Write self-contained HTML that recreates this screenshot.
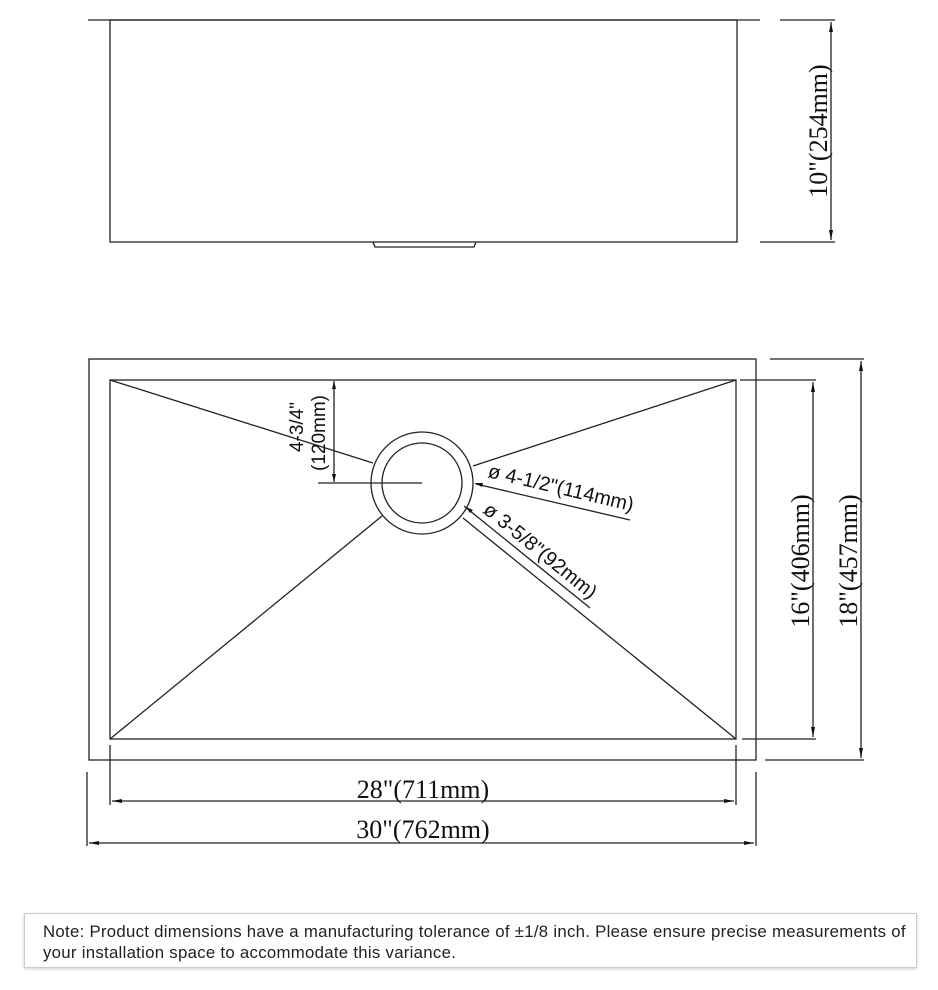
<!DOCTYPE html>
<html><head><style>
html,body{margin:0;padding:0;background:#fff;}
svg{display:block;}
.s{font-family:"Liberation Serif",serif;font-size:26px;fill:#111;}
.a{font-family:"Liberation Sans",sans-serif;fill:#111;}
.note{position:absolute;left:24px;top:913px;width:893px;height:55px;border:1px solid #ccc;box-shadow:0 1px 3px rgba(0,0,0,.2);box-sizing:border-box;font-family:"Liberation Sans",sans-serif;font-size:16.8px;letter-spacing:0.28px;color:#222;padding:7px 0 0 18px;line-height:21px;white-space:nowrap;}
</style></head><body>
<div style="position:relative;width:938px;height:990px;overflow:hidden;">
<svg width="938" height="990" viewBox="0 0 938 990" xmlns="http://www.w3.org/2000/svg">
<g stroke="#222" stroke-width="1.3" fill="none">
<line x1="88" y1="20" x2="760" y2="20"/>
<rect x="110" y="20" width="627" height="222"/>
<path d="M373,242 L375,247 L474,247 L476,242"/>
<line x1="780" y1="20" x2="835" y2="20"/>
<line x1="760" y1="242" x2="835" y2="242"/>
<line x1="831" y1="22" x2="831" y2="240"/>
<rect x="89" y="359" width="667" height="401"/>
<rect x="110" y="380" width="626" height="359"/>
<circle cx="422" cy="483" r="51"/>
<circle cx="422" cy="483" r="40"/>
<line x1="110" y1="380" x2="373" y2="463"/>
<line x1="736" y1="380" x2="473" y2="466"/>
<line x1="110" y1="739" x2="382" y2="516"/>
<line x1="736" y1="739" x2="463" y2="518"/>
<line x1="464" y1="506" x2="590" y2="608"/>
<line x1="476" y1="484" x2="630" y2="520"/>
<line x1="334" y1="381" x2="334" y2="482"/>
<line x1="318" y1="483" x2="422" y2="483"/>
<line x1="740" y1="380" x2="816" y2="380"/>
<line x1="742" y1="739" x2="816" y2="739"/>
<line x1="813" y1="382" x2="813" y2="737"/>
<line x1="770" y1="359" x2="864" y2="359"/>
<line x1="765" y1="760" x2="864" y2="760"/>
<line x1="861" y1="361" x2="861" y2="758"/>
<line x1="110" y1="745" x2="110" y2="805"/>
<line x1="736" y1="745" x2="736" y2="805"/>
<line x1="112" y1="801" x2="734" y2="801"/>
<line x1="87" y1="772" x2="87" y2="846"/>
<line x1="756" y1="772" x2="756" y2="846"/>
<line x1="89" y1="843" x2="754" y2="843"/>
</g>
<g fill="#111">
<path d="M831,22 l-2,10 h4z M831,240 l-2,-10 h4z"/>
<path d="M813,382 l-2,10 h4z M813,737 l-2,-10 h4z"/>
<path d="M861,361 l-2,10 h4z M861,758 l-2,-10 h4z"/>
<path d="M112,801 l10,-2 v4z M734,801 l-10,-2 v4z"/>
<path d="M89,843 l10,-2 v4z M754,843 l-10,-2 v4z"/>
<path d="M334,381 l-2,8 h4z M334,482 l-2,-8 h4z"/>
<path d="M474,483 l9,0 l-1,4z"/>
<path d="M466,507 l7,3 l-3,3z"/>
</g>
<text class="s" transform="translate(827,131) rotate(-90)" text-anchor="middle">10"(254mm)</text>
<text class="s" transform="translate(809,561) rotate(-90)" text-anchor="middle">16"(406mm)</text>
<text class="s" transform="translate(857,561) rotate(-90)" text-anchor="middle">18"(457mm)</text>
<text class="s" x="423" y="798" text-anchor="middle">28"(711mm)</text>
<text class="s" x="423" y="838" text-anchor="middle">30"(762mm)</text>
<text class="a" font-size="19" transform="translate(303,427) rotate(-90)" text-anchor="middle">4-3/4"</text>
<text class="a" font-size="19" transform="translate(325,433) rotate(-90)" text-anchor="middle">(120mm)</text>
<text class="a" font-size="20" transform="translate(487,477) rotate(13.3)">ø 4-1/2"(114mm)</text>
<text class="a" font-size="20" transform="translate(482,512) rotate(39)">ø 3-5/8"(92mm)</text>
</svg>
<div class="note">Note: Product dimensions have a manufacturing tolerance of ±1/8 inch. Please ensure precise measurements of<br>your installation space to accommodate this variance.</div>
</div>
</body></html>
